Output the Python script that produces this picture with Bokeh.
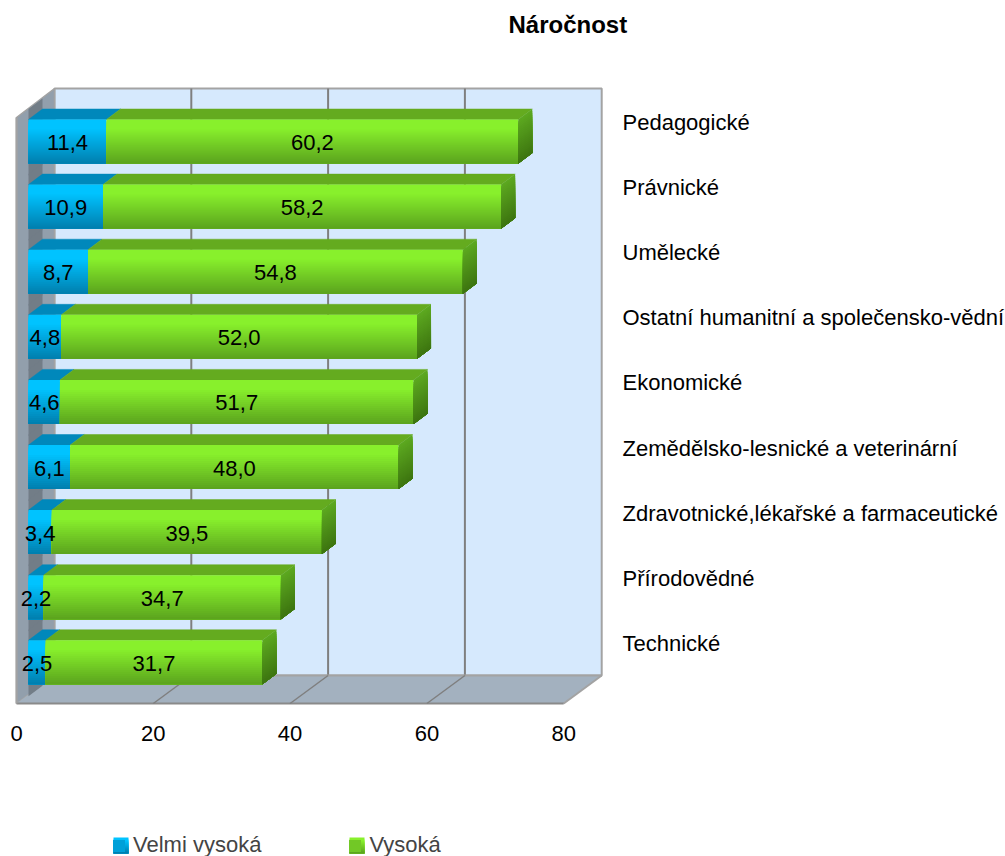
from bokeh.plotting import figure
from bokeh.embed import file_html
from bokeh.resources import INLINE
from bokeh.models import (Range1d, LinearAxis, FixedTicker, Legend, LegendItem, Title)
from bokeh.core.properties import value

TITLE = "Náročnost"
CATEGORIES = ["Pedagogické", "Právnické", "Umělecké", "Ostatní humanitní a společensko-vědní",
              "Ekonomické", "Zemědělsko-lesnické a veterinární",
              "Zdravotnické,lékařské a farmaceutické", "Přírodovědné", "Technické"]
VELMI_VYSOKA = [11.4, 10.9, 8.7, 4.8, 4.6, 6.1, 3.4, 2.2, 2.5]
VYSOKA = [60.2, 58.2, 54.8, 52.0, 51.7, 48.0, 39.5, 34.7, 31.7]
X_TICKS = [0, 20, 40, 60, 80]
SERIES_NAMES = ["Velmi vysoká", "Vysoká"]

FONT = "Liberation Sans"
SIZE = "22px"

# geometry (pixels on the page)
PX = 6.84      # px per value unit
RY = 65.1      # px per category row
X0_PAGE = 16
ROW0_PAGE = 122
FRAME_L, FRAME_R, FRAME_T, FRAME_B = 0, 606, 37, 856

def ux(px):   # pixel length -> value units
    return px / PX
def uy(px):   # pixel length -> row units (rows grow downward)
    return px / RY

x_start = (FRAME_L - X0_PAGE) / PX
x_end = (FRAME_R - X0_PAGE) / PX
y_top = (FRAME_T - ROW0_PAGE) / RY
y_bot = (FRAME_B - ROW0_PAGE) / RY

p = figure(output_backend="svg", toolbar_location=None,
           frame_width=FRAME_R - FRAME_L, frame_height=FRAME_B - FRAME_T,
           x_range=Range1d(x_start, x_end), y_range=Range1d(y_bot, y_top),
           x_axis_location=None, y_axis_location=None,
           min_border=0, min_border_left=0, min_border_right=0, min_border_top=0, min_border_bottom=0,
           outline_line_color=None, background_fill_color="white", border_fill_color="white")
p.grid.visible = False

t = Title(text=TITLE, text_font=FONT, text_font_size="24px", text_font_style="bold", text_color="black",
          align="left", offset=508, standoff=0, padding=(0, 0, 8, 0))
p.add_layout(t, "above")

def mix(a, b, f):
    return "#%02x%02x%02x" % tuple(round(a[i] + (b[i] - a[i]) * f) for i in range(3))

# ---- box geometry
WALL_DX = ux(38)
FLOOR_Y = uy(703 - ROW0_PAGE)
BACK_Y = uy(675 - ROW0_PAGE)
TOP_BACK = uy(88 - ROW0_PAGE)
TOP_FRONT = uy(117 - ROW0_PAGE)
XMAX = X_TICKS[-1]

# back wall
p.patch([WALL_DX, WALL_DX + XMAX, WALL_DX + XMAX, WALL_DX], [TOP_BACK, TOP_BACK, BACK_Y, BACK_Y],
        fill_color="#d6e9fd", line_color="#a3a3a3", line_width=2)
for v in X_TICKS[1:-1]:
    p.line([WALL_DX + v, WALL_DX + v], [TOP_BACK, BACK_Y], line_color="#7f7f7f", line_width=2)
# left wall
p.patch([0, WALL_DX, WALL_DX, 0], [TOP_FRONT, TOP_BACK, BACK_Y, FLOOR_Y],
        fill_color="#929fac", line_color="#a3a3a3", line_width=1.5)
# floor
p.patch([0, WALL_DX, WALL_DX + XMAX, XMAX], [FLOOR_Y, BACK_Y, BACK_Y, FLOOR_Y],
        fill_color="#a3b1bf", line_color=None)
p.line([WALL_DX, WALL_DX + XMAX], [BACK_Y, BACK_Y], line_color="#a3a3a3", line_width=2)
p.line([WALL_DX + XMAX, XMAX], [BACK_Y, FLOOR_Y], line_color="#a3a3a3", line_width=2)
p.line([0, XMAX], [FLOOR_Y, FLOOR_Y], line_color="#8a8a8a", line_width=2)
p.line([0, 0], [TOP_FRONT, FLOOR_Y], line_color="#a3a3a3", line_width=2)
for v in X_TICKS[1:-1]:
    p.line([WALL_DX + v, v], [BACK_Y, FLOOR_Y], line_color="#7f7f7f", line_width=1.5)

# ---- bars
BAR_X0 = ux(12)
FACE_T = uy(119 - ROW0_PAGE)
FACE_H = uy(44)
DEPTH_X = ux(14)
DEPTH_Y = uy(10.5)
N = 22

BLUE = dict(top=(0, 195, 255), bot=(0, 128, 176), cap="#0088bb")
GREEN = dict(top=(136, 240, 44), bot=(92, 165, 30), cap="#64ab1f",
             side_top=(92, 168, 32), side_bot=(62, 118, 16))

def ramp(top, bot, n, hold=0.22):
    h = int(n * hold)
    return [mix(top, bot, max(0, k - h) / (n - h - 1)) for k in range(n)]

for i, (a, b) in enumerate(zip(VELMI_VYSOKA, VYSOKA)):
    ft = i + FACE_T
    # shadow of the bar on the left wall
    p.patch([BAR_X0, BAR_X0 + DEPTH_X, BAR_X0 + DEPTH_X, BAR_X0],
            [ft - DEPTH_Y, ft - 2 * DEPTH_Y, ft + FACE_H - DEPTH_Y + uy(12), ft + FACE_H + uy(12)],
            fill_color="#727d87", line_color=None)

for i, (a, b) in enumerate(zip(VELMI_VYSOKA, VYSOKA)):
    ft = i + FACE_T
    fb = ft + FACE_H
    l0, l1, l2 = BAR_X0, BAR_X0 + a, BAR_X0 + a + b
    # top faces
    p.patch([l0, l1, l1 + DEPTH_X, l0 + DEPTH_X], [ft, ft, ft - DEPTH_Y, ft - DEPTH_Y],
            fill_color=BLUE["cap"], line_color=BLUE["cap"], line_width=0.5)
    p.patch([l1, l2, l2 + DEPTH_X, l1 + DEPTH_X], [ft, ft, ft - DEPTH_Y, ft - DEPTH_Y],
            fill_color=GREEN["cap"], line_color=GREEN["cap"], line_width=0.5)
    # gradient bands: each runs to the bar's foot and is painted over by the next
    s = FACE_H / N
    ys = [ft + k * s for k in range(N)]
    cols_b = ramp(BLUE["top"], BLUE["bot"], N)
    cols_g = ramp(GREEN["top"], GREEN["bot"], N)
    cols_s = ramp(GREEN["side_top"], GREEN["side_bot"], N, 0)
    p.quad(left=l0, right=l1, top=ys, bottom=fb, fill_color=cols_b, line_color=None)
    p.quad(left=l1, right=l2, top=ys, bottom=fb, fill_color=cols_g, line_color=None)
    p.patches([[l2, l2 + DEPTH_X, l2 + DEPTH_X, l2] for _ in ys],
              [[y, y - DEPTH_Y, fb - DEPTH_Y, fb] for y in ys],
              fill_color=cols_s, line_color=None)
    # value labels
    mid = ft + FACE_H / 2 + uy(1)
    for c, val in (((l0 + l1) / 2, a), ((l1 + l2) / 2, b)):
        p.text([c], [mid], text=[f"{val:.1f}".replace(".", ",")], text_font=value(FONT),
               text_font_size=SIZE, text_align="center", text_baseline="middle", text_color="black")

# ---- x axis (tick labels only)
xa = LinearAxis(ticker=FixedTicker(ticks=X_TICKS), axis_line_color=None, major_tick_line_color=None,
                minor_tick_line_color=None, major_label_text_font=FONT, major_label_text_font_size=SIZE,
                major_label_text_color="black", major_label_standoff=16)
xa.fixed_location = uy(703 - ROW0_PAGE)
p.add_layout(xa, "below")

# ---- category labels on a right axis
ya = LinearAxis(ticker=FixedTicker(ticks=list(range(len(CATEGORIES)))),
                axis_line_color=None, major_tick_line_color=None, minor_tick_line_color=None,
                major_label_overrides={i: c for i, c in enumerate(CATEGORIES)},
                major_label_text_font=FONT, major_label_text_font_size=SIZE, major_label_text_color="black",
                major_label_standoff=10)
p.add_layout(ya, "right")

# ---- legend: flat-colour swatches, shaded by gradient strips laid over them
h_b = p.quad(left=[-100], right=[-99], top=[0], bottom=[1], fill_color="#00a0d8", line_color=None)
h_g = p.quad(left=[-100], right=[-99], top=[0], bottom=[1], fill_color="#72c826", line_color=None)
leg = Legend(items=[LegendItem(label=SERIES_NAMES[0], renderers=[h_b]),
                    LegendItem(label=SERIES_NAMES[1], renderers=[h_g])],
             orientation="horizontal", location=(111, -2), glyph_width=15, glyph_height=15,
             label_text_font=FONT, label_text_font_size=SIZE, label_standoff=7, spacing=86,
             margin=0, padding=0, border_line_color=None, background_fill_alpha=0, label_height=15)
p.add_layout(leg, "center")

SW_N = 8
for sw_px, col in ((113, BLUE), (349, GREEN)):
    t0 = uy(837 - ROW0_PAGE)
    t1 = uy(853 - ROW0_PAGE)
    ys = [t0 + k * (t1 - t0) / SW_N for k in range(SW_N)]
    cols = ramp(col["top"], col["bot"], SW_N, 0.2)
    p.quad(left=ux(sw_px - X0_PAGE), right=ux(sw_px + 15 - X0_PAGE), top=ys, bottom=t1,
           fill_color=cols, line_color=None, level="overlay")

open("out.html", "w").write(file_html(p, INLINE))
